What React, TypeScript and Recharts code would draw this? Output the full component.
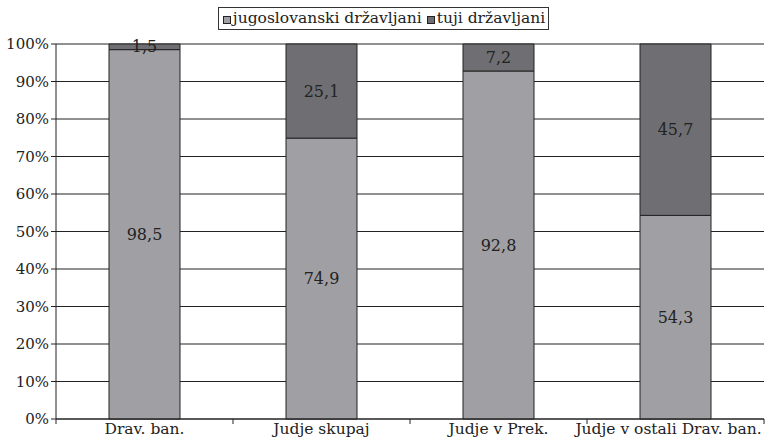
import React from "react";
import { BarChart, Bar, XAxis, YAxis, CartesianGrid, LabelList, Legend } from "recharts";

const categories = ["Drav. ban.", "Judje skupaj", "Judje v Prek.", "Judje v ostali Drav. ban."];
const jugoslovanski = [98.5, 74.9, 92.8, 54.3];
const tuji = [1.5, 25.1, 7.2, 45.7];
const yTicks = [0, 10, 20, 30, 40, 50, 60, 70, 80, 90, 100];
const seriesNames = ["jugoslovanski državljani", "tuji državljani"];
const seriesColors = ["#a0a0a4", "#6f6f73"];

const data = categories.map((c, i) => ({ name: c, idx: i, jug: jugoslovanski[i], tuji: tuji[i] }));

const FONT = "'DejaVu Serif', serif";

const fmt = (v: any) => String(v).replace(".", ",");

const CatTick = (props: any) => {
  const { x, y, payload, index } = props;
  const last = index === categories.length - 1;
  return (
    <text
      x={x}
      y={y}
      dy="0.85em"
      dx={last ? -7 : 0}
      textAnchor="middle"
      fontFamily={FONT}
      fontSize={15.5}
      fill="#222"
    >
      {payload.value}
    </text>
  );
};

const LegendContent = () => (
  <div
    style={{
      display: "inline-flex",
      alignItems: "center",
      border: "1px solid #333",
      padding: "1px 3px 2px 4px",
      fontFamily: FONT,
      fontSize: 15.5,
      color: "#222",
      background: "#fff",
      whiteSpace: "nowrap",
    }}
  >
    {seriesNames.map((n, i) => (
      <span key={n} style={{ display: "inline-flex", alignItems: "center", marginRight: i === 0 ? 5 : 0 }}>
        <span
          style={{
            display: "inline-block",
            width: 6,
            height: 6,
            background: seriesColors[i],
            border: "1px solid #222",
            marginRight: 2,
            marginTop: 3,
          }}
        />
        {n}
      </span>
    ))}
  </div>
);

export default function App() {
  return (
    <div style={{ position: "absolute", left: 0, top: 0, width: 767, height: 439, background: "#fff" }}>
      <BarChart
        width={767}
        height={439}
        data={data}
        margin={{ top: 21, right: 3, bottom: 0, left: 0 }}
        barCategoryGap={0}
      >
        <CartesianGrid vertical={false} stroke="#222" strokeWidth={1} />
        <XAxis
          dataKey="name"
          xAxisId="b"
          axisLine={false}
          tickLine={false}
          tickSize={0}
          tickMargin={1}
          tick={<CatTick />}
          interval={0}
          height={19}
          orientation="bottom"
        />
        <XAxis
          xAxisId="a"
          type="number"
          dataKey="idx"
          domain={[0, 4]}
          ticks={[0, 1, 2, 3, 4]}
          axisLine={{ stroke: "#222" }}
          tickFormatter={() => ""}
          tick={{ fontSize: 1 }}
          tickSize={5}
          tickLine={{ stroke: "#222" }}
          height={1}
          orientation="bottom"
        />
        <YAxis
          domain={[0, 100]}
          ticks={yTicks}
          tickFormatter={(v: number) => `${v}%`}
          width={56}
          axisLine={{ stroke: "#222" }}
          tickLine={{ stroke: "#222" }}
          tickSize={5}
          tick={{ fontFamily: FONT, fontSize: 15, fill: "#222" }}
          interval={0}
        />
        <Legend
          verticalAlign="top"
          align="center"
          content={<LegendContent />}
          wrapperStyle={{ top: 7, left: 0, width: 767, textAlign: "center", paddingLeft: 0 }}
        />
        <Bar dataKey="jug" xAxisId="b" stackId="a" fill={seriesColors[0]} stroke="#222" strokeWidth={1} barSize={71} isAnimationActive={false}>
          <LabelList dataKey="jug" position="center" formatter={fmt} style={{ fontFamily: FONT, fontSize: 16, fill: "#222" }} />
        </Bar>
        <Bar dataKey="tuji" xAxisId="b" stackId="a" fill={seriesColors[1]} stroke="#222" strokeWidth={1} barSize={71} isAnimationActive={false}>
          <LabelList dataKey="tuji" position="center" formatter={fmt} style={{ fontFamily: FONT, fontSize: 16, fill: "#222" }} />
        </Bar>
      </BarChart>
    </div>
  );
}
